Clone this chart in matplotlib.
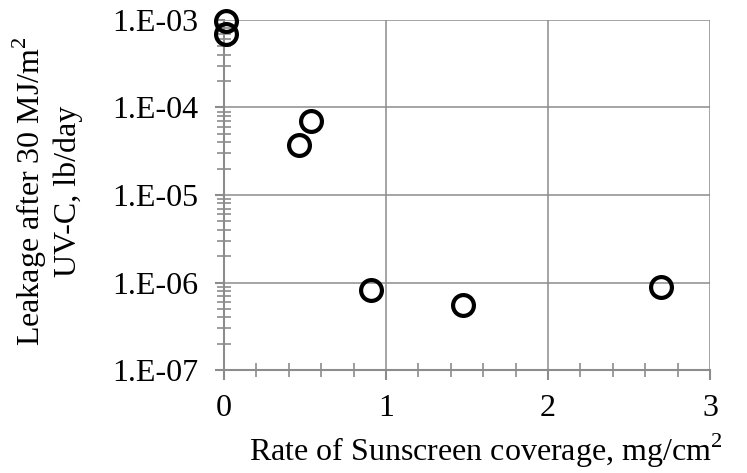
import matplotlib
matplotlib.use('Agg')
from matplotlib import pyplot as plt
from matplotlib.ticker import FixedLocator, FuncFormatter, LogLocator, NullFormatter

# Данные
coverage = [0.01, 0.01, 0.463, 0.537, 0.905, 1.473, 2.696]
leakage = [9.7e-4, 6.9e-4, 3.75e-5, 7.05e-5, 8.3e-7, 5.56e-7, 8.8e-7]

x_ticks = [0, 1, 2, 3]
y_ticks = [1e-7, 1e-6, 1e-5, 1e-4, 1e-3]
y_tick_labels = ['1.E-07', '1.E-06', '1.E-05', '1.E-04', '1.E-03']

plt.rcParams['font.family'] = ['Liberation Serif', 'DejaVu Serif']
plt.rcParams['mathtext.fontset'] = 'custom'
plt.rcParams['mathtext.rm'] = 'Liberation Serif'

grey = '#8c8c8c'
fs = 23


def y_label(v, pos):
    idx = min(range(len(y_ticks)), key=lambda i: abs(y_ticks[i] / v - 1))
    return y_tick_labels[idx]


fig = plt.figure(figsize=(7.47, 4.73), dpi=100)
ax = fig.add_axes([224 / 747, 1 - 370 / 473, 486 / 747, 350 / 473])

ax.plot(coverage, leakage, linestyle='none', marker='o', markersize=15,
        markerfacecolor='none', markeredgecolor='black', markeredgewidth=3,
        zorder=5, clip_on=False)

ax.set_yscale('log')
ax.set_xlim(0, 3)
ax.set_ylim(1e-7, 1e-3)

ax.xaxis.set_major_locator(FixedLocator(x_ticks))
ax.xaxis.set_minor_locator(FixedLocator([i * 0.2 for i in range(16)]))
ax.yaxis.set_major_locator(FixedLocator(y_ticks))
ax.yaxis.set_major_formatter(FuncFormatter(y_label))
ax.yaxis.set_minor_locator(LogLocator(base=10, subs=range(2, 10), numticks=20))
ax.yaxis.set_minor_formatter(NullFormatter())

for side in ['top', 'right']:
    ax.spines[side].set_visible(False)
for side in ['left', 'bottom']:
    ax.spines[side].set_color(grey)
    ax.spines[side].set_linewidth(1.5)

ax.grid(True, which='major', color=grey, linewidth=1.1)
ax.set_axisbelow(True)

ax.tick_params(axis='y', which='major', labelsize=fs, color=grey, width=1.5,
               length=6.5, direction='out', pad=12)
ax.tick_params(axis='x', which='major', labelsize=fs, color=grey, width=1.5,
               length=7, direction='out', pad=10)
ax.tick_params(axis='both', which='minor', color=grey, width=1.2, length=10,
               direction='inout')

ax.set_xlabel('Rate of Sunscreen coverage, mg/cm$^2$', fontsize=fs)
ax.xaxis.set_label_coords(0.539, -0.175)
ax.set_ylabel('Leakage after 30 MJ/m$^2$\nUV-C, lb/day', fontsize=fs)
ax.yaxis.set_label_coords(-0.29, 0.51)

fig.savefig('out.png', dpi=100)
